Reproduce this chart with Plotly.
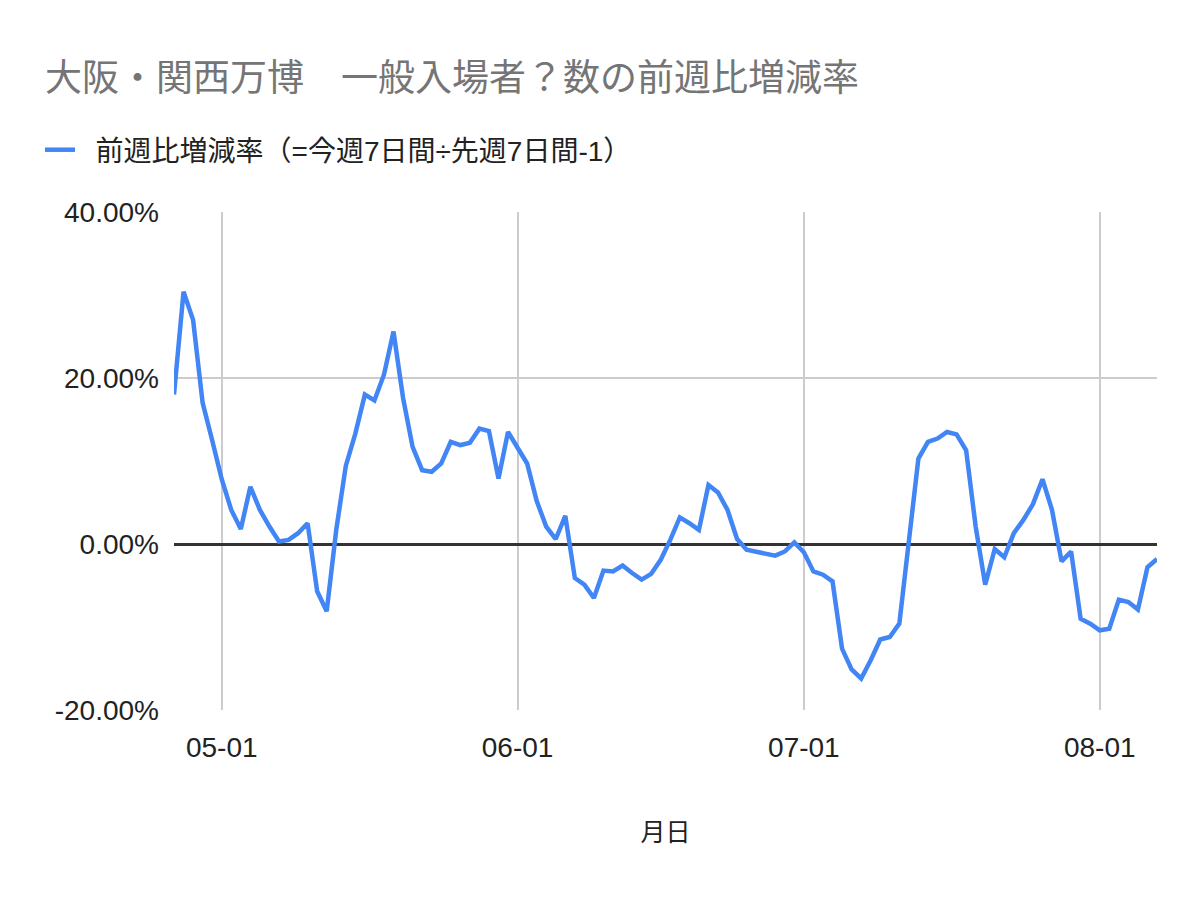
import pandas as pd
import plotly.graph_objects as go

# week-over-week change of general admissions, percent
dates = pd.date_range("2025-04-26", "2025-08-07", freq="D")
rates = [
    18.0, 30.4, 27.0, 17.0, 12.5,
    7.8, 4.1, 1.8, 6.9, 4.1, 2.1, 0.3, 0.5, 1.3, 2.5,
    -5.7, -8.1, 1.7, 9.4, 13.3, 18.0, 17.3, 20.4, 25.6, 17.6,
    11.7, 8.9, 8.7, 9.7, 12.3, 11.9, 12.2, 13.9, 13.6, 7.9, 13.5,
    11.6, 9.7, 5.2, 2.1, 0.6, 3.4, -4.1, -4.9, -6.5, -3.2,
    -3.3, -2.6, -3.5, -4.3, -3.6, -1.9, 0.5, 3.2, 2.5, 1.7,
    7.1, 6.2, 4.1, 0.6, -0.7, -0.9, -1.2, -1.4, -0.9, 0.2,
    -1.0, -3.3, -3.7, -4.5, -12.6, -15.1, -16.2, -14.0, -11.5, -11.2,
    -9.6, 0.4, 10.3, 12.3, 12.7, 13.5, 13.2, 11.3, 2.1, -4.9,
    -0.6, -1.6, 1.3, 2.9, 4.8, 7.8, 4.1, -2.1, -0.9, -9.0, -9.6,
    -10.4, -10.2, -6.7, -7.0, -7.9, -2.8, -1.8,
]

y_ticks = [-20, 0, 20, 40]
y_labels = ["-20.00%", "0.00%", "20.00%", "40.00%"]
x_ticks = ["2025-05-01", "2025-06-01", "2025-07-01", "2025-08-01"]
x_labels = ["05-01", "06-01", "07-01", "08-01"]

title_text = "大阪・関西万博　一般入場者？数の前週比増減率"
series_name = "前週比増減率（=今週7日間÷先週7日間-1）"

FONT = "Arial, 'Liberation Sans', 'Noto Sans CJK JP', sans-serif"
W, H = 1200, 898

fig = go.Figure()
fig.add_trace(go.Scatter(
    x=dates,
    y=rates,
    mode="lines",
    # two spaces push the legend label away from the short swatch
    name="  " + series_name,
    line=dict(color="#4285F4", width=4.5),
))

fig.update_layout(
    width=W,
    height=H,
    paper_bgcolor="white",
    plot_bgcolor="white",
    font=dict(family=FONT, color="#222222"),
    margin=dict(l=166, r=51, t=204, b=196),
    title=dict(
        text=title_text,
        font=dict(size=37, color="#757575"),
        xref="container", x=37 / W, xanchor="left",
        yref="container", y=1 - 70 / H, yanchor="middle",
    ),
    showlegend=True,
    legend=dict(
        orientation="h",
        xref="container", x=32 / W, xanchor="left",
        yref="container", y=1 - 142 / H, yanchor="middle",
        font=dict(size=28, color="#222222"),
        bgcolor="rgba(0,0,0,0)",
    ),
)

fig.update_xaxes(
    type="date",
    range=[dates[0], dates[-1]],
    tickvals=x_ticks,
    ticktext=x_labels,
    showgrid=True,
    gridcolor="#cccccc",
    gridwidth=2,
    showline=False,
    zeroline=False,
    ticks="",
    ticklabelstandoff=18,
    tickfont=dict(size=28, color="#222222"),
    title=dict(text="月日", font=dict(size=25, color="#222222"), standoff=61),
)

fig.update_yaxes(
    range=[-20, 40],
    tickvals=y_ticks,
    ticktext=y_labels,
    showgrid=True,
    gridcolor="#cccccc",
    gridwidth=2,
    zeroline=True,
    zerolinecolor="#333333",
    zerolinewidth=2.5,
    showline=False,
    ticks="",
    ticklabelstandoff=14,
    tickfont=dict(size=28, color="#222222"),
)

fig.write_html("out.html")
